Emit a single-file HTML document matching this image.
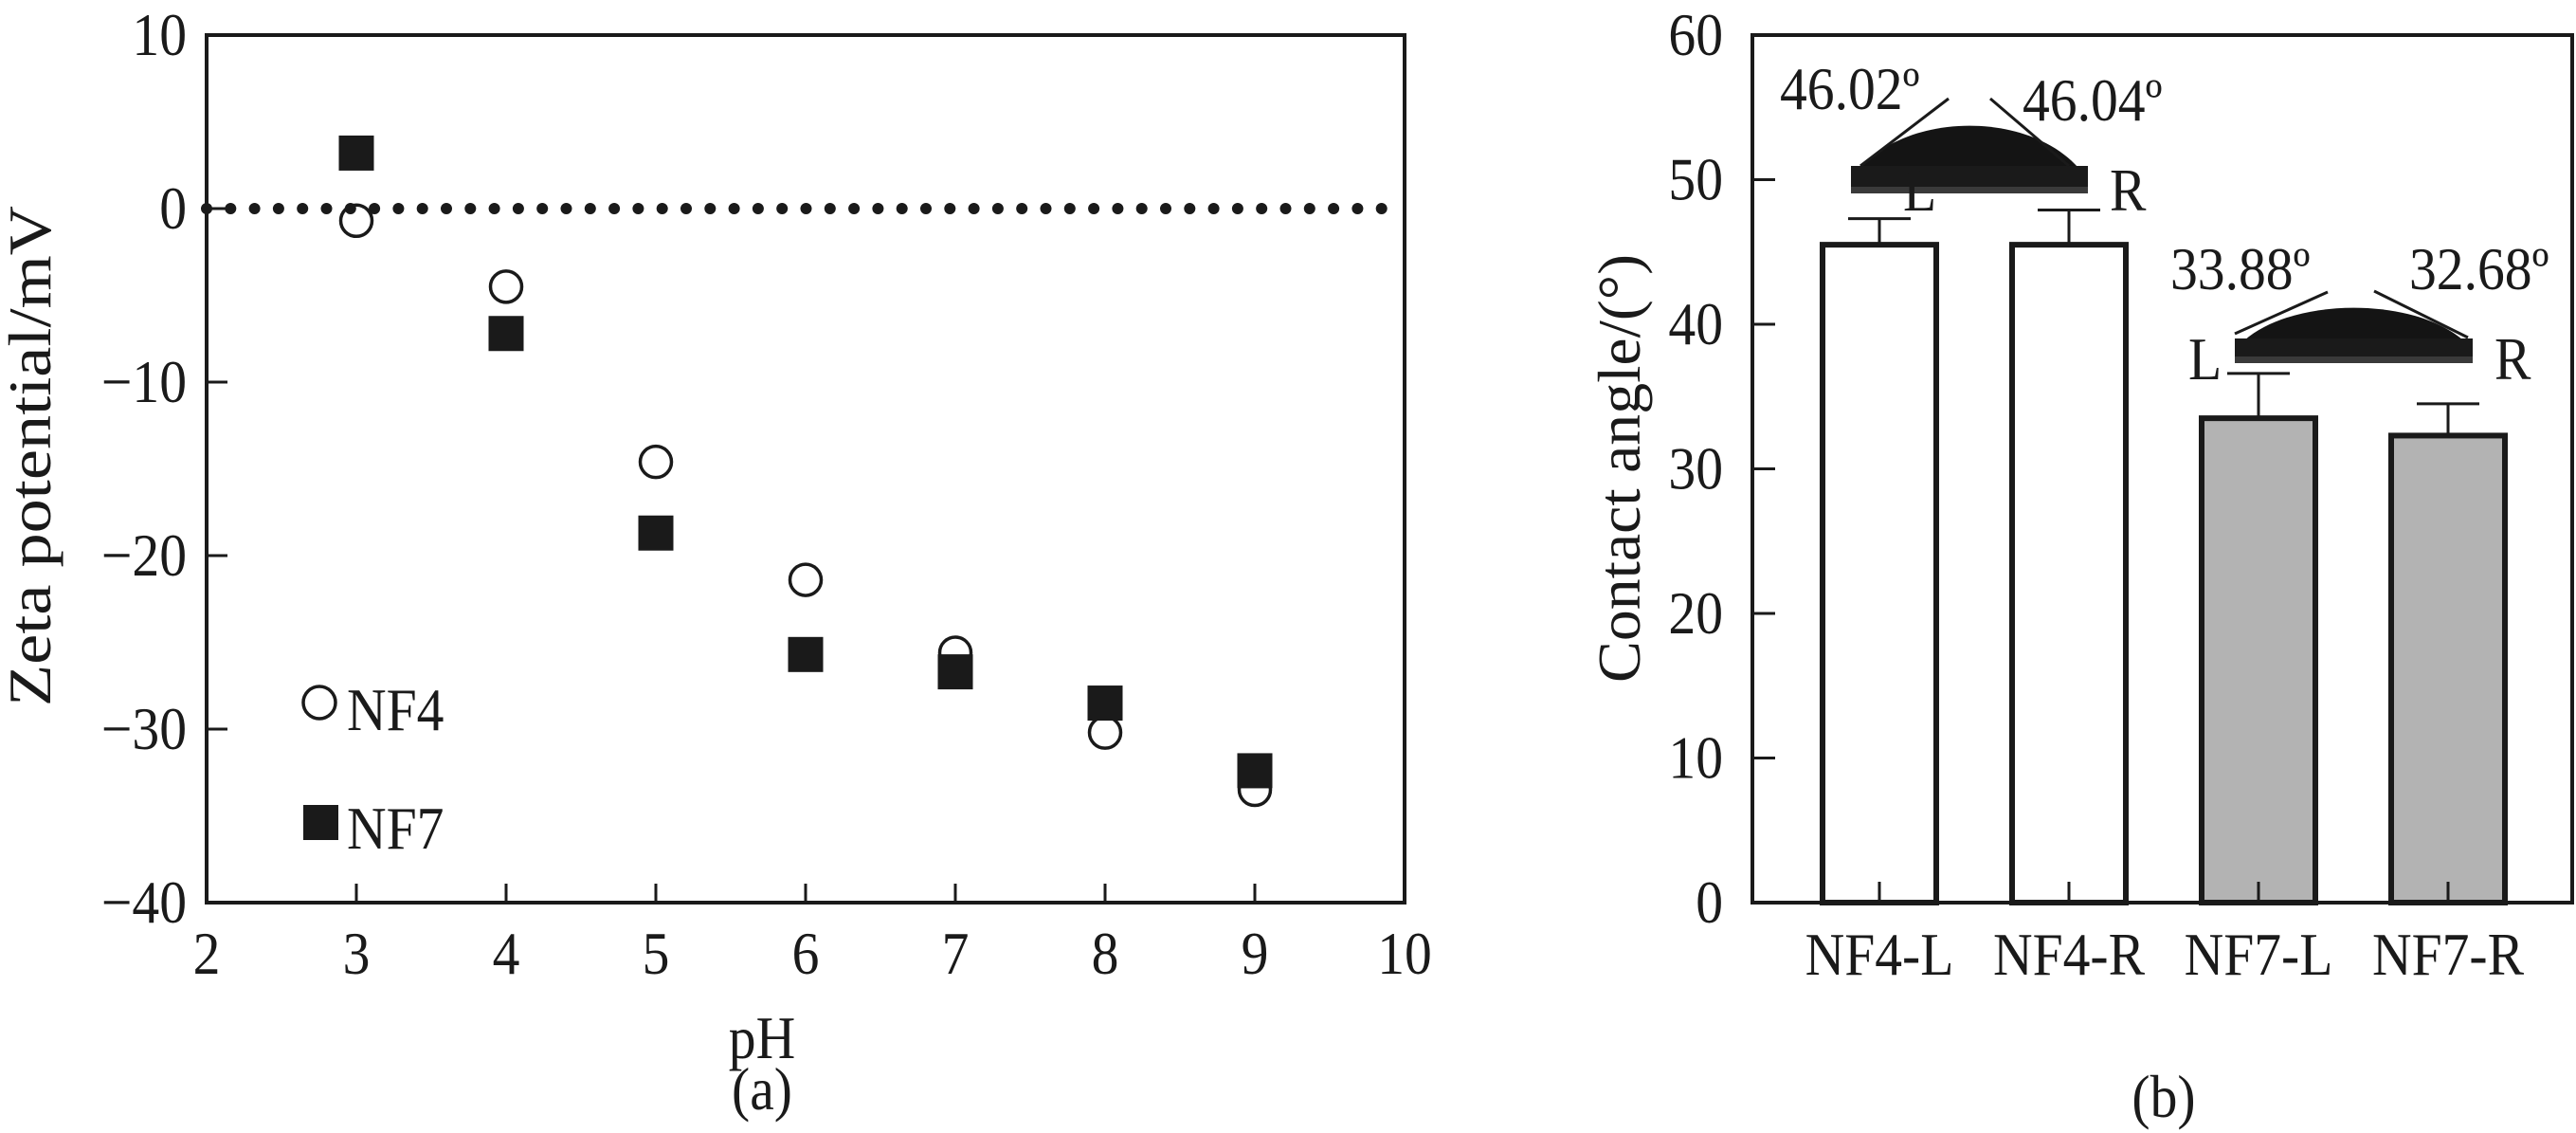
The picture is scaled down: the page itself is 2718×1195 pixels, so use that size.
<!DOCTYPE html>
<html><head><meta charset="utf-8"><style>
html,body{margin:0;padding:0;background:#fff;}
svg{display:block;}
svg text{font-family:"Liberation Serif","Times New Roman",serif;}
</style></head><body>
<svg id="fig" width="2718" height="1195" viewBox="0 0 2718 1195" xmlns="http://www.w3.org/2000/svg"></svg>
<script>
// ---- Panel (a) data ----
const phValues = [3,4,5,6,7,8,9];
const nf4Zeta = [-0.7,-4.5,-14.6,-21.4,-25.6,-30.2,-33.5];
const nf7Zeta = [3.2,-7.2,-18.7,-25.7,-26.7,-28.5,-32.4];
const xTicksA = [2,3,4,5,6,7,8,9,10];
const yTicksA = [10,0,-10,-20,-30,-40];
// ---- Panel (b) data ----
const barCategories = ["NF4-L","NF4-R","NF7-L","NF7-R"];
const barValues = [45.5,45.5,33.5,32.3];
const barErrors = [1.8,2.4,3.1,2.2];
const barFills = ["#ffffff","#ffffff","#b3b3b3","#b3b3b3"];
const yTicksB = [0,10,20,30,40,50,60];

const NS="http://www.w3.org/2000/svg";
const svg=document.getElementById('fig');
const FS=64, SX=0.9;
function mk(tag,attrs,parent){const e=document.createElementNS(NS,tag);for(const k in attrs)e.setAttribute(k,attrs[k]);(parent||svg).appendChild(e);return e;}
function T(parent,str,x,y,anchor,name){
  const t=mk('text',{x:0,y:0,'font-size':FS,'text-anchor':anchor||'start',fill:'#1a1a1a','font-family':'Liberation Serif, serif',transform:`translate(${x},${y}) scale(${SX},1)`},parent);
  t.textContent=str;
  
  
  return t;
}

// ===== Panel A =====
const A={l:218,r:1482,t:37,b:952,xmin:2,xmax:10,ymin:-40,ymax:10};
const xA=v=>A.l+(v-A.xmin)/(A.xmax-A.xmin)*(A.r-A.l);
const yA=v=>A.b-(v-A.ymin)/(A.ymax-A.ymin)*(A.b-A.t);
const gA=mk('g',{});


let fr=mk('rect',{x:A.l,y:A.t,width:A.r-A.l,height:A.b-A.t,fill:'none',stroke:'#1a1a1a','stroke-width':4},gA);


xTicksA.forEach(v=>{
  const x=xA(v);
  const t=mk('line',{x1:x,x2:x,y1:A.b,y2:A.b-20,stroke:'#1a1a1a','stroke-width':3},gA);
  
  
  T(gA,String(v),x,1027,'middle','x-tick-label');
});
yTicksA.forEach(v=>{
  const y=yA(v);
  const t=mk('line',{x1:A.l,x2:A.l+22,y1:y,y2:y,stroke:'#1a1a1a','stroke-width':3},gA);
  
  
  T(gA,v<0?('\u2212'+(-v)):String(v),197,y+21,'end','y-tick-label');
});
const zl=mk('line',{x1:A.l,x2:A.r,y1:yA(0),y2:yA(0),stroke:'#1a1a1a','stroke-width':12,'stroke-linecap':'round','stroke-dasharray':'0 25.3'},gA);


phValues.forEach((p,i)=>{
  const c=mk('circle',{cx:xA(p),cy:yA(nf4Zeta[i]),r:16.5,fill:'none',stroke:'#1a1a1a','stroke-width':3.5},gA);
  
  
});
phValues.forEach((p,i)=>{
  const s=mk('rect',{x:xA(p)-18.5,y:yA(nf7Zeta[i])-18.5,width:37,height:37,fill:'#1a1a1a'},gA);
  
  
});
const lg=mk('g',{},gA);


let lc=mk('circle',{cx:337,cy:741,r:17,fill:'none',stroke:'#1a1a1a','stroke-width':3.5},lg);


T(lg,'NF4',366,770,'start','legend-nf4-label');
let ls=mk('rect',{x:320,y:849,width:37,height:37,fill:'#1a1a1a'},lg);


T(lg,'NF7',366,895,'start','legend-nf7-label');
let ya=mk('text',{x:0,y:0,'font-size':FS,'text-anchor':'middle',fill:'#1a1a1a',transform:'translate(53,481) rotate(-90)',textLength:528,lengthAdjust:'spacingAndGlyphs'},gA);
ya.textContent='Zeta potential/mV';


T(gA,'pH',804,1116,'middle','x-axis-title-a');
T(gA,'(a)',804,1170,'middle','panel-label-a');

// ===== Panel B =====
const B={l:1849,r:2714,t:37,b:952,ymin:0,ymax:60,first:1983,step:200,bw:120};
const yB=v=>B.b-(v-B.ymin)/(B.ymax-B.ymin)*(B.b-B.t);
const xB=i=>B.first+i*B.step;
const gB=mk('g',{});


let fb=mk('rect',{x:B.l,y:B.t,width:B.r-B.l,height:B.b-B.t,fill:'none',stroke:'#1a1a1a','stroke-width':4},gB);


yTicksB.forEach(v=>{
  const y=yB(v);
  const t=mk('line',{x1:B.l,x2:B.l+24,y1:y,y2:y,stroke:'#1a1a1a','stroke-width':3},gB);
  
  
  T(gB,String(v),1818,y+21,'end','y-tick-label');
});
barCategories.forEach((c,i)=>{
  const cx=xB(i);
  const bar=mk('rect',{x:cx-B.bw/2,y:yB(barValues[i]),width:B.bw,height:B.b-yB(barValues[i]),fill:barFills[i],stroke:'#1a1a1a','stroke-width':6},gB);
  
  
  const eTop=yB(barValues[i]+barErrors[i]);
  const ev=mk('line',{x1:cx,x2:cx,y1:yB(barValues[i]),y2:eTop,stroke:'#1a1a1a','stroke-width':3},gB);
  
  
  const ec=mk('line',{x1:cx-33,x2:cx+33,y1:eTop,y2:eTop,stroke:'#1a1a1a','stroke-width':3},gB);
  
  
  const tk=mk('line',{x1:cx,x2:cx,y1:B.b,y2:B.b-22,stroke:'#1a1a1a','stroke-width':3},gB);
  
  
  T(gB,c,cx,1028,'middle','x-tick-label');
});
function droplet(name,x1,x2,baseTop,baseBot,domeTop,L1,L2,R1,R2){
  const g=mk('g',{},gB);
  
  
  const w=x2-x1, h=baseTop-domeTop;
  mk('path',{d:`M${x1+w*0.04},${baseTop+2} C${x1+w*0.25},${domeTop-h*0.33} ${x2-w*0.25},${domeTop-h*0.33} ${x2-w*0.04},${baseTop+2} Z`,fill:'#141414'},g);
  mk('rect',{x:x1,y:baseTop,width:w,height:baseBot-baseTop,fill:'#1a1a1a'},g);
  mk('rect',{x:x1,y:baseBot-7,width:w,height:7,fill:'#3a3a3a'},g);
  mk('line',{x1:L1[0],y1:L1[1],x2:L2[0],y2:L2[1],stroke:'#1a1a1a','stroke-width':3},g);
  mk('line',{x1:R1[0],y1:R1[1],x2:R2[0],y2:R2[1],stroke:'#1a1a1a','stroke-width':3},g);
}
droplet('droplet-nf4',1953,2203,175,204,132,[1963,175],[2056,104],[2100,104],[2183,175]);
droplet('droplet-nf7',2358,2609,357,383,324,[2358,352],[2456,308],[2505,307],[2604,356]);
T(gB,'46.02\u00ba',1878,115,'start','angle-label-nf4-l');
T(gB,'46.04\u00ba',2134,127,'start','angle-label-nf4-r');
T(gB,'L',2008,222,'start','side-label-l');
T(gB,'R',2226,222,'start','side-label-r');
T(gB,'33.88\u00ba',2290,305,'start','angle-label-nf7-l');
T(gB,'32.68\u00ba',2542,305,'start','angle-label-nf7-r');
T(gB,'L',2309,400,'start','side-label-l');
T(gB,'R',2632,400,'start','side-label-r');
let yb=mk('text',{x:0,y:0,'font-size':FS,'text-anchor':'middle',fill:'#1a1a1a',transform:'translate(1730,494) rotate(-90)',textLength:452,lengthAdjust:'spacingAndGlyphs'},gB);
yb.textContent='Contact angle/(\u00b0)';


T(gB,'(b)',2283,1178,'middle','panel-label-b');
</script>
</body></html>
